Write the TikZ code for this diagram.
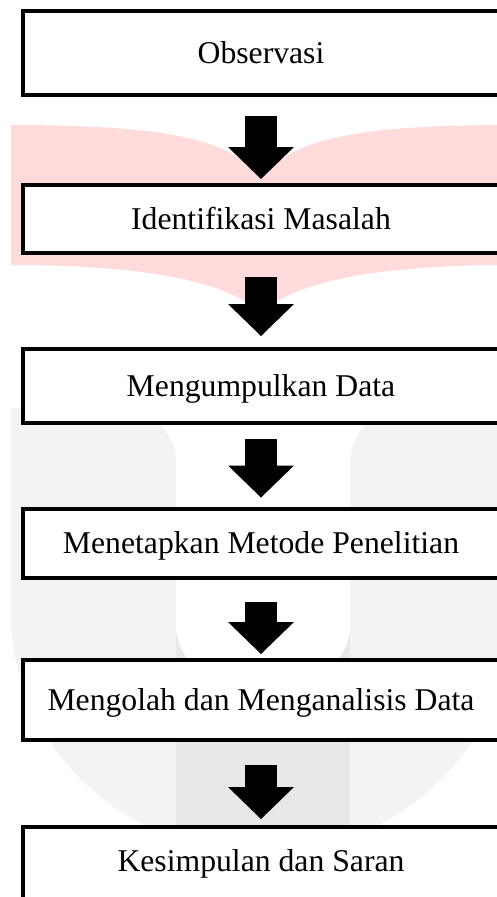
\documentclass[tikz,border=0pt]{standalone}
\usepackage{fontspec}
\setmainfont{Liberation Serif}
\usetikzlibrary{positioning,arrows.meta}
\definecolor{wmpink}{RGB}{255,219,219}
\definecolor{wmgray}{RGB}{243,243,243}
\definecolor{wmstripe}{RGB}{232,232,232}

\begin{document}
\begin{tikzpicture}[x=1pt, y=-1pt,
    stepbox/.style={draw, line width=4pt, fill=white, minimum width=476pt,
        inner sep=0pt, text height=21pt, text depth=0pt,
        font=\fontsize{31.7}{36}\selectfont},
    flow/.style={line width=32pt, -{Triangle[length=32pt, width=66pt, line width=0pt]}}]

    \useasboundingbox (0,0) rectangle (497,897);
    \clip (0,0) rectangle (497,897);

    % background watermark
    \fill[wmpink] (11,125) .. controls (170,125) and (235,140) .. (261,180)
        .. controls (287,140) and (352,125) .. (511,125) -- (511,265)
        .. controls (347,265) and (282,290) .. (261,315)
        .. controls (240,290) and (175,265) .. (11,265) -- cycle;
    \fill[wmgray] (11,408) -- (121,408) arc[start angle=270, end angle=360, radius=55]
        -- (176,613) -- (350,613) -- (350,463) arc[start angle=180, end angle=270, radius=55]
        -- (511,408) -- (511,613) arc[start angle=0, end angle=180, x radius=250, y radius=240] -- cycle;
    \fill[wmstripe] (176,613) rectangle (350,840);
    \fill[white] (176,600) -- (176,625) arc[start angle=180, end angle=90, radius=55]
        -- (295,680) arc[start angle=90, end angle=0, radius=55] -- (350,600) -- cycle;

    \node[stepbox, minimum height=84pt] (obs) at (261,53) {Observasi};
    \node[stepbox, minimum height=68pt] (masalah) at (261,219) {Identifikasi Masalah};
    \node[stepbox, minimum height=74pt] (data) at (261,386) {Mengumpulkan Data};
    \node[stepbox, minimum height=69pt] (metode) at (261,543) {Menetapkan Metode Penelitian};
    \node[stepbox, minimum height=80pt] (olah) at (261,700) {Mengolah dan Menganalisis Data};
    \node[stepbox, minimum height=84pt, text depth=16pt] (saran) at (261,869) {Kesimpulan dan Saran};

    \draw[flow, shorten <=19pt, shorten >=4pt] (obs) -- (masalah);
    \draw[flow, shorten <=22pt, shorten >=11pt] (masalah) -- (data);
    \draw[flow, shorten <=14pt, shorten >=9pt] (data) -- (metode);
    \draw[flow, shorten <=22pt, shorten >=4pt] (metode) -- (olah);
    \draw[flow, shorten <=23pt, shorten >=6pt] (olah) -- (saran);

\end{tikzpicture}
\end{document}
